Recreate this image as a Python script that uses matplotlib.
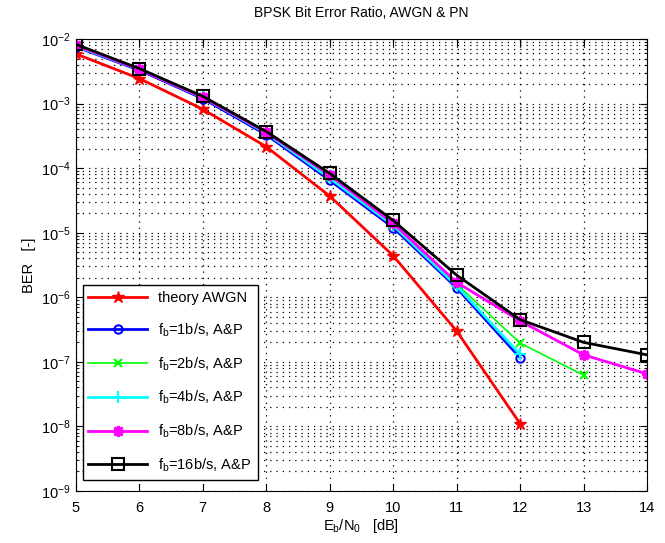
import matplotlib
matplotlib.use('Agg')
import matplotlib.pyplot as plt
from matplotlib.ticker import NullFormatter

# Eb/N0 [dB]
snr = [5, 6, 7, 8, 9, 10, 11, 12, 13, 14]

# BER values
ber_theory = [5.9e-3, 2.45e-3, 8.2e-4, 2.15e-4, 3.7e-5, 4.4e-6, 3.0e-7, 1.1e-8]
ber_fb1 = [7.6e-3, 3.3e-3, 1.2e-3, 3.3e-4, 6.5e-5, 1.2e-5, 1.4e-6, 1.15e-7]
ber_fb2 = [7.8e-3, 3.4e-3, 1.25e-3, 3.5e-4, 7.2e-5, 1.3e-5, 1.6e-6, 1.95e-7, 6.2e-8]
ber_fb4 = [7.8e-3, 3.4e-3, 1.25e-3, 3.5e-4, 7.0e-5, 1.3e-5, 1.5e-6, 1.3e-7]
ber_fb8 = [8.0e-3, 3.4e-3, 1.25e-3, 3.6e-4, 7.8e-5, 1.4e-5, 1.7e-6, 4.3e-7, 1.28e-7, 6.5e-8]
ber_fb16 = [8.3e-3, 3.5e-3, 1.3e-3, 3.7e-4, 8.3e-5, 1.55e-5, 2.2e-6, 4.5e-7, 2.0e-7, 1.28e-7]

labels = ['theory AWGN',
          'f$_b$=1b/s, A&P',
          'f$_b$=2b/s, A&P',
          'f$_b$=4b/s, A&P',
          'f$_b$=8b/s, A&P',
          'f$_b$=16b/s, A&P']

plt.rcParams['font.family'] = ['Liberation Sans', 'DejaVu Sans']
plt.rcParams['mathtext.default'] = 'regular'
plt.rcParams['font.size'] = 10

fig = plt.figure(figsize=(6.65, 5.43), dpi=100)
ax = fig.add_axes([0.114, 0.096, 0.859, 0.832])

ax.semilogy(snr[:len(ber_theory)], ber_theory, color='red', lw=2, marker='*',
            ms=9, mfc='red', mec='red', label=labels[0])
ax.semilogy(snr[:len(ber_fb1)], ber_fb1, color='blue', lw=2, marker='o',
            ms=6, mfc='none', mec='blue', mew=1.5, label=labels[1])
ax.semilogy(snr[:len(ber_fb2)], ber_fb2, color='#00ff00', lw=1.2, marker='x',
            ms=6, mew=1.5, label=labels[2])
ax.semilogy(snr[:len(ber_fb4)], ber_fb4, color='cyan', lw=2, marker='+',
            ms=9, mew=1.5, label=labels[3])
ax.semilogy(snr[:len(ber_fb8)], ber_fb8, color='magenta', lw=2, marker=(8, 2, 0),
            ms=8, mew=2, label=labels[4])
ax.semilogy(snr[:len(ber_fb16)], ber_fb16, color='black', lw=2, marker='s',
            ms=9, mfc='none', mec='black', mew=1.5, label=labels[5])

ax.set_xlim(5, 14)
ax.set_ylim(1e-9, 1e-2)
ax.set_xticks(snr)
ax.yaxis.set_minor_formatter(NullFormatter())
dots = (0, (1, 4))
ax.grid(True, which='major', linestyle=dots, color='black', lw=0.9)
ax.grid(True, which='minor', axis='y', linestyle=dots, color='black', lw=0.9)
ax.tick_params(which='both', direction='in', top=True, right=True, labelsize=10.5)
ax.tick_params(which='major', length=5)
ax.tick_params(axis='x', pad=7)

ax.set_title('BPSK Bit Error Ratio, AWGN & PN', fontsize=10, pad=16)
ax.set_xlabel('E$_b$/N$_0$   [dB]', fontsize=10.5, labelpad=2)
ax.set_ylabel('BER   [-]', fontsize=10.5)

leg = ax.legend(loc='lower left', bbox_to_anchor=(0.012, 0.025), fontsize=10.5,
                handlelength=4, fancybox=False, framealpha=1, edgecolor='black',
                borderaxespad=0, labelspacing=1.12)
leg.get_frame().set_linewidth(1)

fig.savefig('out.png', dpi=100, facecolor='white')
